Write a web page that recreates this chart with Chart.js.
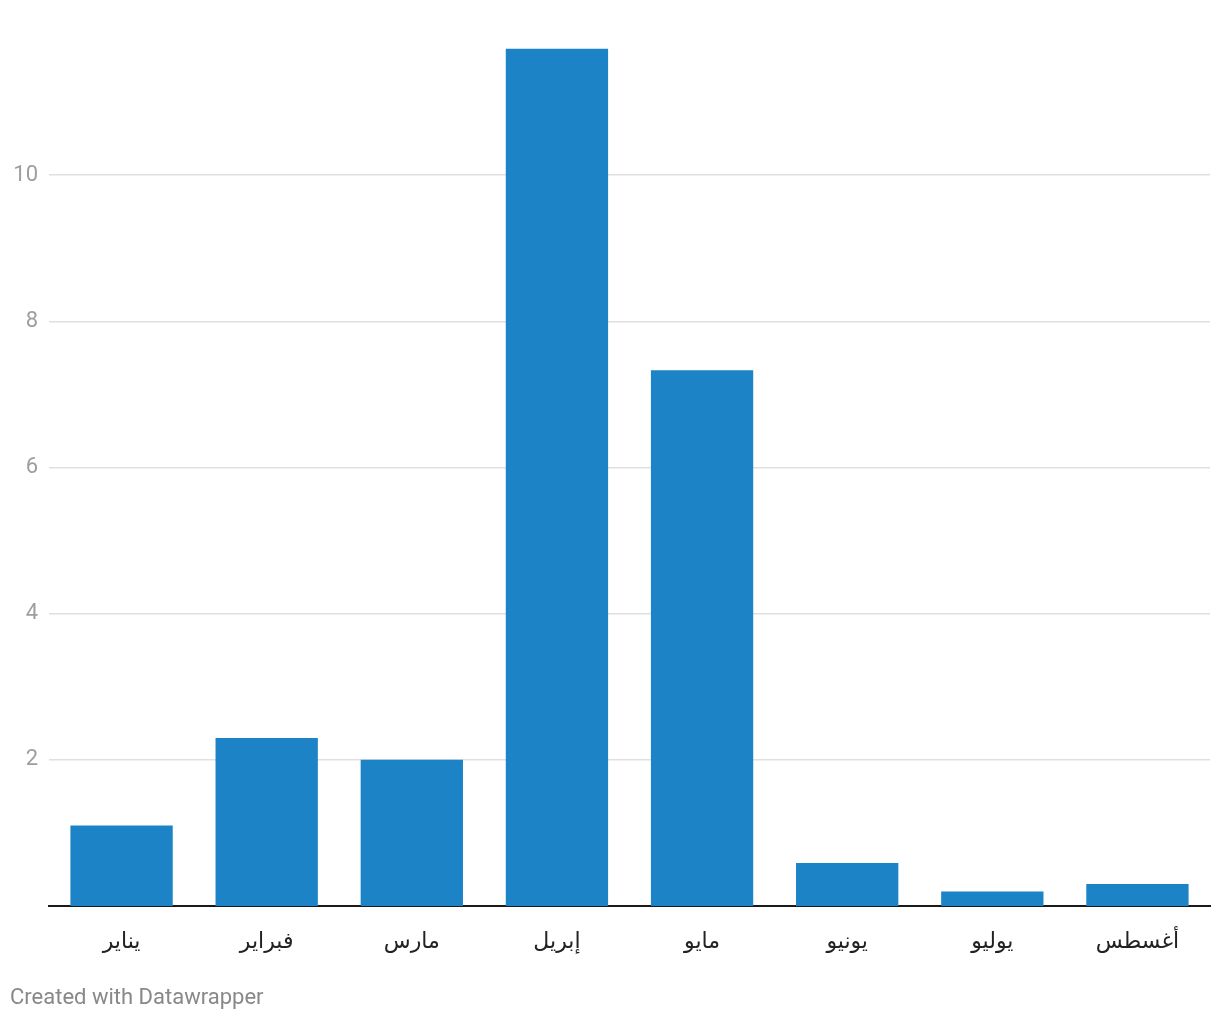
<!DOCTYPE html>
<html>
<head>
<meta charset="utf-8">
<title>Chart</title>
<script src="https://cdn.jsdelivr.net/npm/chart.js"></script>
<style>
body{margin:0;background:#fff;font-family:Roboto,sans-serif}
#wrap{position:relative;width:1220px;height:1020px}
#foot{position:absolute;left:10px;top:984px;font-size:22px;color:#888}
</style>
</head>
<body>
<div id="wrap">
<canvas id="chart" width="1220" height="1020"></canvas>
<div id="foot">Created with Datawrapper</div>
</div>
<script>
// ===== DATA =====
const months=["يناير","فبراير","مارس","إبريل","مايو","يونيو","يوليو","أغسطس"]
const values=[1.1,2.3,2.0,11.73,7.33,0.59,0.2,0.3]
const yTicks=[2,4,6,8,10]

// ===== CHART =====
new Chart(document.getElementById("chart"),{
  type:"bar",
  data:{labels:months,datasets:[{data:values,backgroundColor:"#1c84c6",barPercentage:0.705,categoryPercentage:1}]},
  options:{
    responsive:false,
    animation:false,
    layout:{padding:{top:29,right:10,bottom:0,left:0}},
    plugins:{legend:{display:false},tooltip:{enabled:false}},
    scales:{
      x:{
        grid:{display:false,drawTicks:false},
        border:{display:true,color:"#1a1a1a",width:2},
        ticks:{color:"#222",font:{family:"Roboto, 'DejaVu Sans', sans-serif",size:22},padding:23},
        afterFit:s=>{s.height=114}
      },
      y:{
        min:0,max:12,
        afterBuildTicks:s=>{s.ticks=yTicks.map(v=>({value:v}))},
        grid:{color:"#e0e0e0",lineWidth:1.5,drawTicks:false},
        border:{display:false},
        ticks:{color:"#9e9e9e",font:{family:"Roboto",size:22},padding:11},
        afterFit:s=>{s.width=49}
      }
    }
  }
})
</script>
</body>
</html>
